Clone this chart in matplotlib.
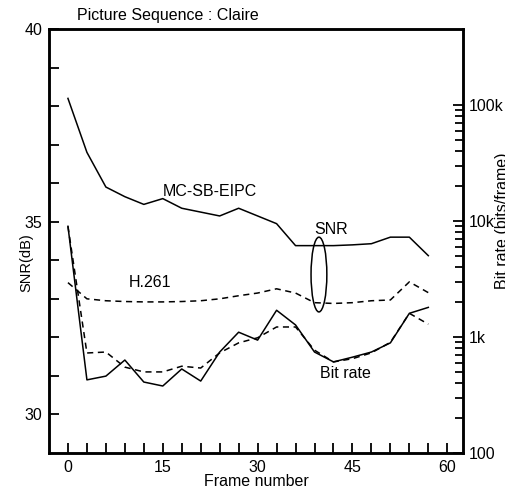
import matplotlib
matplotlib.use("Agg")
import matplotlib.pyplot as plt
from matplotlib.patches import Ellipse
import numpy as np

plt.rcParams["font.family"] = ["Liberation Sans", "DejaVu Sans"]
plt.rcParams["font.size"] = 11.5

# Frame numbers (every third frame)
frames = [0, 3, 6, 9, 12, 15, 18, 21, 24, 27, 30, 33, 36, 39, 42, 45, 48, 51, 54, 57]

# SNR (dB)
snr_mcsb = [38.2, 36.8, 35.9, 35.65, 35.45, 35.6, 35.35, 35.25, 35.15, 35.35,
            35.15, 34.95, 34.38, 34.38, 34.38, 34.4, 34.43, 34.6, 34.6, 34.12]
snr_h261 = [33.42, 33.0, 32.95, 32.93, 32.92, 32.92, 32.93, 32.95, 33.0, 33.08,
            33.15, 33.26, 33.15, 32.9, 32.88, 32.9, 32.95, 32.97, 33.44, 33.16]

# Bit rate (bits/frame)
bits_mcsb = [9000, 427, 460, 633, 409, 378, 530, 417, 742, 1100,
             940, 1700, 1270, 742, 610, 670, 742, 890, 1600, 1800]
bits_h261 = [9000, 728, 742, 550, 500, 500, 560, 540, 730, 890,
             985, 1220, 1220, 770, 610, 650, 730, 900, 1600, 1290]

fig = plt.figure(figsize=(5.05, 4.91), dpi=100)
ax = fig.add_axes([0.097, 0.0774, 0.820, 0.8635])
ax2 = ax.twinx()

lw = 1.1
ax.plot(frames, snr_mcsb, color="black", lw=lw)
ax.plot(frames, snr_h261, color="black", lw=lw, ls=(0, (4, 3)))
ax2.plot(frames, bits_mcsb, color="black", lw=lw)
ax2.plot(frames, bits_h261, color="black", lw=lw, ls=(0, (4, 3)))

ax.set_xlim(-3, 62.5)
ax.set_ylim(29, 40)
ax2.set_yscale("log")
ax2.set_ylim(100, 10 ** 5.655)

# left axis ticks
ax.set_yticks([30, 35, 40])
ax.set_yticks(np.arange(30, 40, 1), minor=True)
ax.set_xticks([0, 15, 30, 45, 60])
ax.set_xticks(np.arange(0, 61, 3), minor=True)
ax.tick_params(axis="both", which="both", direction="in", length=7, width=1.3, pad=5)
ax.tick_params(axis="y", which="both", right=False)
ax.tick_params(axis="x", which="both", top=False)

# right axis ticks
ax2.set_yticks([100, 1000, 10000, 100000])
ax2.set_yticklabels(["100", "1k", "10k", "100k"])
minor = [m * 10 ** d for d in range(2, 5) for m in range(2, 10)]
ax2.set_yticks(minor, minor=True)
ax2.set_yticklabels([], minor=True)
ax2.tick_params(axis="y", which="major", direction="in", length=7, width=1.3, pad=4)
ax2.tick_params(axis="y", which="minor", direction="in", length=6, width=1.3)

for a in (ax, ax2):
    for s in a.spines.values():
        s.set_linewidth(1.8)

# labels
ax.text(0.068, 1.033, "Picture Sequence : Claire", transform=ax.transAxes,
        ha="left", va="center")
ax.text(-0.055, 0.448, "SNR(dB)", transform=ax.transAxes, rotation=90,
        ha="center", va="center", fontsize=10.5)
ax.text(0.5, -0.067, "Frame number", transform=ax.transAxes,
        ha="center", va="center")
# axis title on the right sits at the page edge, as in the source figure
fig.text(0.995, 0.55, "Bit rate (bits/frame)", rotation=90,
         ha="center", va="center", fontsize=11.5)

# annotations
ax.text(22.5, 35.78, "MC-SB-EIPC", ha="center", va="center")
ax.text(13.0, 33.42, "H.261", ha="center", va="center")
ax.text(41.6, 34.79, "SNR", ha="center", va="center")
ax.text(43.9, 31.06, "Bit rate", ha="center", va="center")
ax.add_patch(Ellipse((39.7, 33.63), 2.5, 1.94, fill=False, color="black", lw=1.1))

fig.savefig("out.png", dpi=100)
